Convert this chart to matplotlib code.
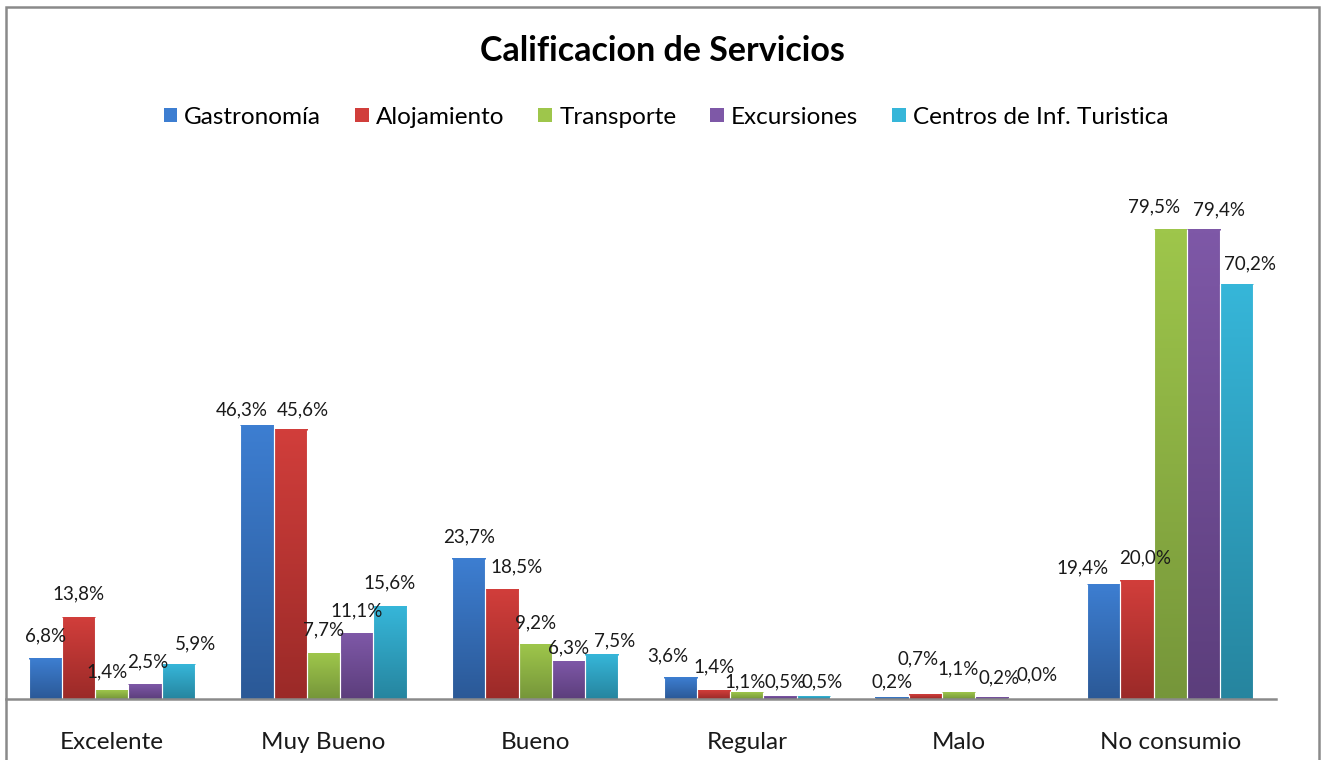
import numpy as np
import matplotlib.pyplot as plt
from matplotlib.patches import Patch, Rectangle
from matplotlib.colors import to_rgb

plt.rcParams['font.family'] = ['Lato', 'DejaVu Sans']

# Data (percent)
categories = ['Excelente', 'Muy Bueno', 'Bueno', 'Regular', 'Malo', 'No consumio']
series = ['Gastronomía', 'Alojamiento', 'Transporte', 'Excursiones', 'Centros de Inf. Turistica']
gastronomia = [6.8, 46.3, 23.7, 3.6, 0.2, 19.4]
alojamiento = [13.8, 45.6, 18.5, 1.4, 0.7, 20.0]
transporte = [1.4, 7.7, 9.2, 1.1, 1.1, 79.5]
excursiones = [2.5, 11.1, 6.3, 0.5, 0.2, 79.4]
centros = [5.9, 15.6, 7.5, 0.5, 0.0, 70.2]
values = [gastronomia, alojamiento, transporte, excursiones, centros]

# gradient colours (top, bottom) per series
top_colors = ['#3d7ed1', '#d13e3b', '#9ec64b', '#7e58a7', '#36b6d9']
bottom_colors = ['#2b5997', '#9b2a28', '#76963a', '#5c3e7c', '#26859f']

# label nudges in pixels (dx, gap between bar top and text baseline)
label_nudge = [
    [(0, 17), (-15, 10), (0, 17), (-13, 16), (0, 10), (-21, 11)],
    [(0, 18), (13, 14), (15, 17), (0, 18), (-7, 30), (8, 17)],
    [(-5, 13), (0, 18), (0, 16), (-2, 5), (0, 18), (-16, 17)],
    [(3, 17), (0, 17), (0, 8), (5, 9), (7, 14), (16, 14)],
    [(17, 15), (0, 18), (13, 8), (9, 9), (12, 19), (13, 15)],
]

W, H = 1325, 760
fig = plt.figure(figsize=(W / 100, H / 100), dpi=100)
ax = fig.add_axes([6 / W, 1 - 699 / H, 1270 / W, 539 / H])

x = np.arange(len(categories))
bw = 0.157
px2pt = 72 / 100

for i, vals in enumerate(values):
    pos = x + (i - 2) * bw
    bars = ax.bar(pos, vals, width=bw, facecolor='none', edgecolor='none', zorder=3)
    c_top = np.array(to_rgb(top_colors[i]))
    c_bot = np.array(to_rgb(bottom_colors[i]))
    t = np.linspace(0, 1, 64)[:, None]
    grad = (c_top * (1 - t) + c_bot * t)[:, None, :]
    for j, b in enumerate(bars):
        h = b.get_height()
        if h > 0:
            x0 = b.get_x()
            ax.imshow(grad, extent=(x0, x0 + b.get_width(), 0, h), aspect='auto',
                      origin='upper', zorder=3.5, interpolation='bilinear')
            # thin white separators between neighbouring bars
            ax.vlines([x0, x0 + b.get_width()], 0, h, colors='white', linewidth=0.8, zorder=4)
        dx, dy = label_nudge[i][j]
        ax.annotate(f'{vals[j]:.1f}%'.replace('.', ','), (pos[j], h),
                    xytext=(dx * px2pt, dy * px2pt), textcoords='offset points',
                    ha='center', va='baseline', fontsize=13.5, color='#1a1a1a', zorder=5)

ax.set_xlim(-0.5, 5.5)
ax.set_ylim(0, 91.2)
ax.set_xticks(x)
ax.set_xticklabels(categories, fontsize=17.5, color='#1a1a1a')
ax.tick_params(axis='x', length=0, pad=24)
ax.set_yticks([])
for s in ['top', 'left', 'right']:
    ax.spines[s].set_visible(False)
ax.spines['bottom'].set_color('#8a8a8a')
ax.spines['bottom'].set_linewidth(1.8)
ax.spines['bottom'].set_zorder(6)

fig.text(662 / W, 1 - 51 / H, 'Calificacion de Servicios', ha='center', va='center',
         fontsize=24.5, fontweight='bold', color='black')

handles = [Patch(facecolor=top_colors[i], edgecolor='none') for i in range(5)]
fig.legend(handles, series, loc='center', bbox_to_anchor=(666 / W, 1 - 117 / H),
           ncol=5, frameon=False, fontsize=17.5, handlelength=0.55, handleheight=0.55,
           handletextpad=0.3, columnspacing=1.4, borderpad=0)

# outer chart frame
fig.patches.append(Rectangle((6 / W, -0.05), 1313 / W, 1.05 - 7 / H, transform=fig.transFigure,
                             facecolor='none', edgecolor='#8a8a8a', linewidth=1.8))

fig.savefig('out.png', dpi=100)
